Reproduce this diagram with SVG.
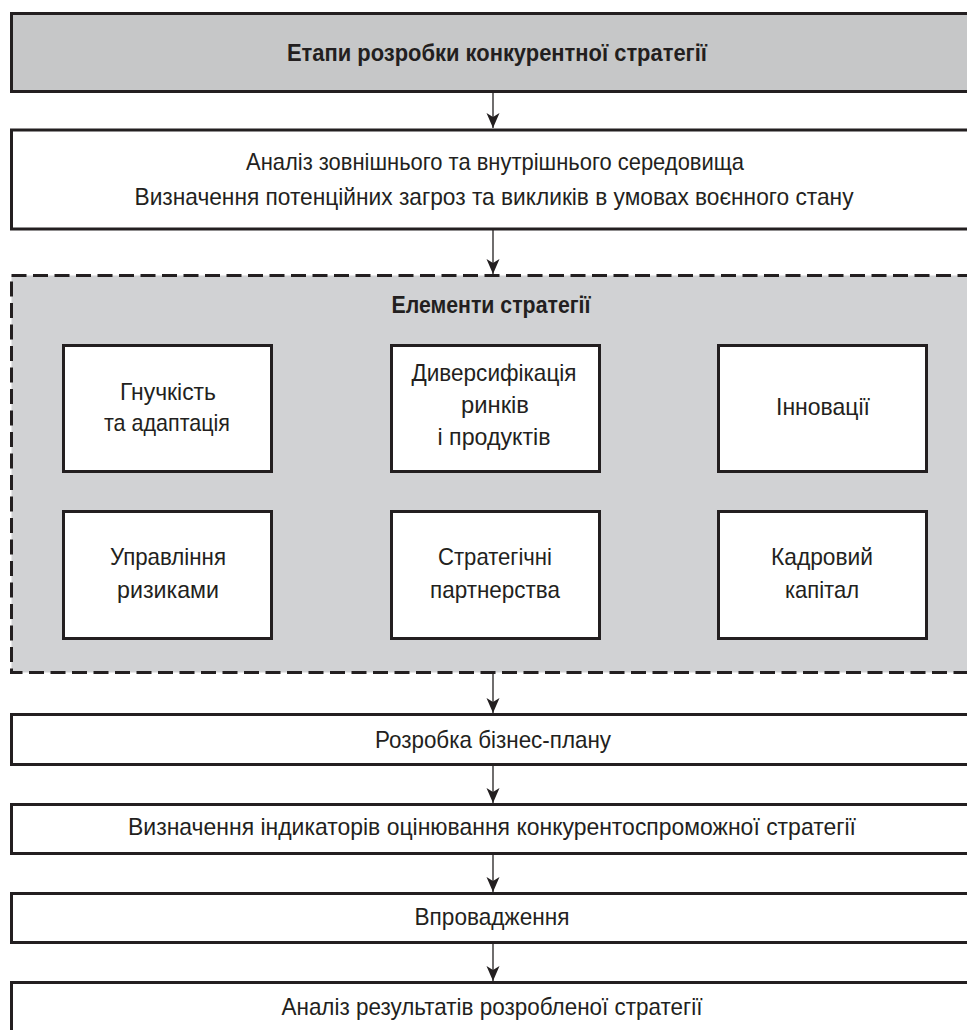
<svg xmlns="http://www.w3.org/2000/svg" width="967" height="1030" viewBox="0 0 967 1030">
<style>
.box{fill:#ffffff;stroke:#231f20;stroke-width:3}
.head{fill:#c6c7c8;stroke:#231f20;stroke-width:3}
.group{fill:#d1d2d4;stroke:#231f20;stroke-width:3;stroke-dasharray:15 6.5}
.t{font-family:"Liberation Sans",Arial,sans-serif;font-size:24px;fill:#231f20;text-anchor:middle}
.b{font-weight:bold}
.conn{stroke:#231f20;stroke-width:1.3;fill:none}
</style>
<defs>
<marker id="arr" markerUnits="userSpaceOnUse" markerWidth="15" markerHeight="14" refX="15" refY="6.5" orient="auto" viewBox="0 0 15 13">
<path d="M0,0 L15,6.5 L0,13 L4,6.5 z" fill="#231f20"/>
</marker>
</defs>
<rect width="967" height="1030" fill="#ffffff"/>
<g id="n-title">
<rect class="head" x="11.5" y="13.5" width="968" height="78"/>
<text class="t b" x="497" y="61" textLength="420" lengthAdjust="spacingAndGlyphs">Етапи розробки конкурентної стратегії</text>
</g>
<g id="n-analysis">
<rect class="box" x="11.5" y="130" width="968" height="99"/>
<text class="t" x="495" y="170" textLength="498" lengthAdjust="spacingAndGlyphs">Аналіз зовнішнього та внутрішнього середовища</text>
<text class="t" x="494" y="205" textLength="719" lengthAdjust="spacingAndGlyphs">Визначення потенційних загроз та викликів в умовах воєнного стану</text>
</g>
<g id="n-elements">
<rect class="group" x="11.5" y="275.5" width="968" height="397"/>
<text class="t b" x="491" y="313" textLength="199" lengthAdjust="spacingAndGlyphs">Елементи стратегії</text>
</g>
<g id="n-flex">
<rect class="box" x="63.5" y="345.5" width="208" height="126"/>
<text class="t" x="168" y="400" textLength="96" lengthAdjust="spacingAndGlyphs">Гнучкість</text>
<text class="t" x="167" y="431" textLength="126" lengthAdjust="spacingAndGlyphs">та адаптація</text>
</g>
<g id="n-divers">
<rect class="box" x="391.5" y="345.5" width="208" height="126"/>
<text class="t" x="494" y="381" textLength="165" lengthAdjust="spacingAndGlyphs">Диверсифікація</text>
<text class="t" x="495" y="413" textLength="68" lengthAdjust="spacingAndGlyphs">ринків</text>
<text class="t" x="494" y="445" textLength="113" lengthAdjust="spacingAndGlyphs">і продуктів</text>
</g>
<g id="n-innov">
<rect class="box" x="718.5" y="345.5" width="208" height="126"/>
<text class="t" x="823" y="415" textLength="94" lengthAdjust="spacingAndGlyphs">Інновації</text>
</g>
<g id="n-risk">
<rect class="box" x="63.5" y="511.5" width="208" height="127"/>
<text class="t" x="168" y="565" textLength="116" lengthAdjust="spacingAndGlyphs">Управління</text>
<text class="t" x="168" y="598" textLength="102" lengthAdjust="spacingAndGlyphs">ризиками</text>
</g>
<g id="n-partner">
<rect class="box" x="391.5" y="511.5" width="208" height="127"/>
<text class="t" x="495" y="565" textLength="114" lengthAdjust="spacingAndGlyphs">Стратегічні</text>
<text class="t" x="495" y="598" textLength="130" lengthAdjust="spacingAndGlyphs">партнерства</text>
</g>
<g id="n-staff">
<rect class="box" x="718.5" y="511.5" width="208" height="127"/>
<text class="t" x="822" y="565" textLength="102" lengthAdjust="spacingAndGlyphs">Кадровий</text>
<text class="t" x="822" y="598" textLength="74" lengthAdjust="spacingAndGlyphs">капітал</text>
</g>
<g id="n-bizplan">
<rect class="box" x="11.5" y="714.5" width="968" height="50"/>
<text class="t" x="493" y="748" textLength="236" lengthAdjust="spacingAndGlyphs">Розробка бізнес-плану</text>
</g>
<g id="n-indicators">
<rect class="box" x="11.5" y="804.5" width="968" height="49"/>
<text class="t" x="492" y="835" textLength="728" lengthAdjust="spacingAndGlyphs">Визначення індикаторів оцінювання конкурентоспроможної стратегії</text>
</g>
<g id="n-impl">
<rect class="box" x="11.5" y="893.5" width="968" height="49"/>
<text class="t" x="492" y="925" textLength="155" lengthAdjust="spacingAndGlyphs">Впровадження</text>
</g>
<g id="n-result">
<rect class="box" x="11.5" y="982.5" width="968" height="60"/>
<text class="t" x="492" y="1015" textLength="421" lengthAdjust="spacingAndGlyphs">Аналіз результатів розробленої стратегії</text>
</g>
<g id="connectors">
<line class="conn" x1="493" y1="92" x2="493" y2="128" marker-end="url(#arr)"/>
<line class="conn" x1="493" y1="230" x2="493" y2="274" marker-end="url(#arr)"/>
<line class="conn" x1="493" y1="674" x2="493" y2="713" marker-end="url(#arr)"/>
<line class="conn" x1="493" y1="766" x2="493" y2="803" marker-end="url(#arr)"/>
<line class="conn" x1="493" y1="855" x2="493" y2="892" marker-end="url(#arr)"/>
<line class="conn" x1="493" y1="944" x2="493" y2="981" marker-end="url(#arr)"/>
</g>
</svg>
